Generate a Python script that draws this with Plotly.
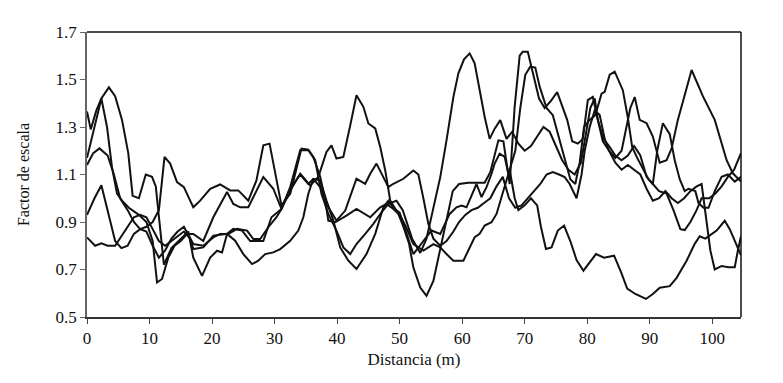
import plotly.graph_objects as go

# Distancia (m) / Factor de escala for five series
x_a = [0, 0.6, 1.5, 2.3, 3.5, 4.5, 5.6, 6.6, 7.3, 8.3, 9.4, 10.4, 11.0, 12.3, 13.5, 15.0, 16.2, 17.0, 18.4, 19.7,
       20.8, 21.6, 22.4, 23.4, 24.8, 26.1, 28.2, 29.5, 31.1, 32.5, 34.1, 35.4, 36.5, 37.5, 38.6, 39.9, 41.0, 42.1,
       43.1, 44.5, 45.8, 47.1, 48.2, 49.5, 50.5, 52.0, 53.3, 54.3, 55.4, 56.5, 57.5, 58.6, 59.4, 60.3, 61.2, 62.0,
       62.8, 63.6, 64.4, 65.2, 66.1, 67.1, 68.0, 69.0, 70.0, 71.0, 72.0, 73.0, 74.0, 75.0, 76.0, 77.0, 78.0, 79.0,
       79.8, 80.5, 81.2, 81.7, 82.5, 83.5, 84.5, 85.5, 86.9, 87.6, 88.4, 89.5, 90.5, 91.6, 92.7, 93.5, 94.5, 95.6,
       96.7, 98.5, 100.4, 102.3, 103.3, 104.6]
y_a = [1.365, 1.29, 1.37, 1.42, 1.467, 1.43, 1.33, 1.19, 1.01, 1.0, 1.10, 1.09, 1.05, 0.72, 0.79, 0.83, 0.86, 0.75,
       0.673, 0.75, 0.779, 0.772, 0.85, 0.871, 0.864, 0.82, 0.82, 0.92, 0.955, 1.047, 1.202, 1.202, 1.16, 1.019,
       0.934, 0.864, 0.793, 0.765, 0.807, 0.85, 0.892, 0.941, 0.976, 0.99, 0.95, 0.83, 0.77, 0.83, 0.962, 1.089,
       1.244, 1.427, 1.526, 1.585, 1.61, 1.568, 1.456, 1.343, 1.25, 1.293, 1.329, 1.25, 1.28, 1.23, 1.20, 1.22,
       1.26, 1.30, 1.28, 1.22, 1.16, 1.12, 1.10, 1.15, 1.28, 1.38, 1.42, 1.33, 1.24, 1.20, 1.17, 1.20, 1.38, 1.426,
       1.33, 1.316, 1.26, 1.15, 1.16, 1.21, 1.33, 1.44, 1.54, 1.43, 1.33, 1.16, 1.105, 1.07]

x_b = [0, 1.2, 2.3, 3.2, 4.0, 4.8, 5.6, 6.7, 8.3, 9.5, 10.5, 11.2, 12.0, 13.0, 14.0, 15.0, 16.0, 17.0, 18.6, 20.2,
       22.4, 23.4, 24.5, 25.8, 26.9, 28.2, 29.8, 31.1, 32.5, 34.1, 35.7, 37.0, 38.3, 39.1, 39.9, 41.0, 42.1, 43.1,
       44.2, 45.0, 46.1, 46.9, 47.7, 48.5, 49.8, 50.6, 51.5, 52.2, 53.3, 54.3, 55.4, 56.5, 57.5, 58.5, 59.5, 61.0,
       63.6, 64.5, 65.8, 66.6, 67.6, 68.4, 69.2, 69.7, 70.5, 71.4, 72.3, 73.2, 74.2, 75.2, 76.1, 76.8, 77.6, 78.5,
       79.3, 80.1, 80.9, 81.7, 82.6, 83.5, 84.5, 85.5, 86.5, 87.5, 88.5, 89.5, 90.5, 91.2, 92.1, 93.2, 94.0, 94.8,
       95.6, 96.2, 97.3, 97.8, 98.6, 99.4, 100.4, 101.5, 102.5, 103.6, 104.6]
y_b = [1.17, 1.30, 1.42, 1.30, 1.13, 1.02, 0.99, 0.96, 0.93, 0.90, 0.82, 0.645, 0.66, 0.75, 0.80, 0.82, 0.85, 0.85,
       0.82, 0.92, 1.026, 0.976, 0.962, 0.962, 1.019, 1.089, 1.04, 0.955, 1.033, 1.103, 1.054, 1.09, 1.195, 1.223,
       1.167, 1.174, 1.307, 1.434, 1.385, 1.315, 1.294, 1.216, 1.117, 0.99, 0.934, 0.88, 0.81, 0.708, 0.624, 0.589,
       0.652, 0.79, 0.92, 1.03, 1.06, 1.065, 1.065, 1.11, 1.244, 1.24, 1.06, 1.385, 1.60, 1.617, 1.617, 1.52, 1.42,
       1.38, 1.41, 1.447, 1.38, 1.33, 1.24, 1.23, 1.25, 1.413, 1.427, 1.33, 1.25, 1.22, 1.18, 1.16, 1.18, 1.22, 1.18,
       1.09, 1.06, 1.20, 1.316, 1.27, 1.16, 1.08, 1.03, 1.04, 1.03, 0.98, 0.96, 0.96, 1.03, 1.09, 1.10, 1.07, 1.09]

x_c = [0, 1.0, 2.0, 3.3, 4.3, 5.3, 6.5, 7.5, 8.5, 9.5, 10.5, 11.5, 12.4, 13.3, 14.4, 15.5, 16.5, 17.0, 18.1, 19.7,
       21.3, 22.9, 24.2, 25.8, 27.1, 28.2, 29.2, 30.1, 31.1, 32.5, 33.5, 34.3, 35.4, 36.2, 37.3, 38.1, 38.6, 39.7,
       41.5, 43.1, 45.3, 46.9, 47.9, 49.0, 50.1, 51.0, 52.2, 53.8, 55.4, 56.5, 57.5, 58.6, 60.2, 61.2, 62.0, 62.8,
       63.6, 64.7, 65.5, 66.3, 67.1, 67.6, 68.4, 69.0, 70.0, 71.0, 72.0, 72.6, 73.4, 74.3, 75.3, 76.3, 77.3, 78.3,
       79.4, 80.4, 81.4, 82.7, 84.3, 85.4, 86.4, 87.7, 89.4, 90.5, 91.6, 93.2, 94.3, 95.9, 97.2, 98.0, 98.9, 100.7,
       102.0, 102.8, 103.8, 104.6]
y_c = [1.14, 1.19, 1.21, 1.18, 1.10, 1.0, 0.95, 0.90, 0.87, 0.88, 0.90, 0.95, 1.174, 1.146, 1.068, 1.047, 0.99,
       0.962, 0.99, 1.04, 1.058, 1.033, 1.033, 0.99, 1.075, 1.223, 1.23, 1.103, 0.97, 1.019, 1.132, 1.209, 1.205,
       1.174, 1.09, 0.99, 0.906, 0.899, 0.927, 0.955, 0.92, 0.962, 0.976, 0.955, 0.927, 0.88, 0.807, 0.78, 0.807,
       0.793, 0.765, 0.737, 0.737, 0.793, 0.836, 0.85, 0.885, 0.899, 0.934, 1.005, 1.075, 1.12, 1.0, 0.95, 0.97,
       1.0, 0.97, 0.88, 0.786, 0.793, 0.864, 0.885, 0.82, 0.74, 0.695, 0.73, 0.765, 0.75, 0.758, 0.69, 0.62, 0.597,
       0.576, 0.597, 0.623, 0.63, 0.665, 0.737, 0.808, 0.84, 0.83, 0.864, 0.905, 0.87, 0.81, 0.76]

x_d = [0, 1.2, 2.3, 3.5, 4.5, 5.5, 6.5, 7.5, 8.5, 9.5, 10.5, 11.5, 12.5, 13.5, 14.5, 15.5, 16.5, 17.0, 18.6, 20.2,
       21.3, 22.6, 24.0, 25.6, 26.6, 27.7, 29.0, 30.3, 31.1, 32.5, 34.1, 35.4, 36.2, 37.3, 38.3, 39.4, 40.5, 41.8,
       43.1, 44.7, 46.1, 47.4, 48.2, 49.0, 50.0, 51.0, 52.2, 53.8, 55.1, 56.5, 57.3, 58.0, 59.1, 59.9, 60.7, 61.5,
       62.3, 63.1, 63.9, 64.7, 65.2, 66.0, 66.8, 67.4, 68.5, 69.3, 70.1, 70.9, 71.7, 72.4, 73.5, 74.5, 75.5, 76.5,
       77.3, 78.1, 78.8, 79.5, 80.4, 81.3, 82.3, 82.8, 83.6, 84.4, 85.7, 86.5, 87.2, 88.0, 89.0, 89.8, 90.5, 91.5,
       92.7, 93.8, 94.9, 95.6, 96.5, 97.5, 98.3, 99.5, 100.5, 101.5, 102.5, 103.5, 104.6]
y_d = [0.93, 1.0, 1.055, 0.93, 0.82, 0.79, 0.80, 0.85, 0.87, 0.86, 0.80, 0.75, 0.78, 0.83, 0.86, 0.88, 0.83, 0.807,
       0.80, 0.835, 0.85, 0.85, 0.871, 0.864, 0.828, 0.828, 0.878, 0.92, 0.955, 1.04, 1.10, 1.06, 1.082, 1.075, 0.99,
       0.906, 0.793, 0.737, 0.702, 0.765, 0.85, 0.962, 0.99, 0.96, 0.94, 0.86, 0.765, 0.82, 0.864, 0.85, 0.892,
       0.934, 0.962, 0.969, 0.962, 1.012, 1.06, 1.005, 1.047, 1.103, 1.146, 1.188, 1.174, 1.103, 1.20, 1.38, 1.52,
       1.554, 1.55, 1.47, 1.38, 1.35, 1.25, 1.15, 1.08, 1.06, 1.15, 1.30, 1.33, 1.35, 1.44, 1.448, 1.52, 1.533,
       1.455, 1.34, 1.215, 1.17, 1.12, 1.08, 1.06, 1.03, 1.02, 0.95, 0.87, 0.866, 0.90, 0.95, 1.0, 1.0, 1.02, 1.05,
       1.09, 1.12, 1.19]

x_e = [0, 1.3, 2.3, 3.3, 4.5, 5.5, 6.5, 7.5, 8.5, 9.5, 10.5, 11.5, 12.5, 13.5, 14.5, 15.5, 16.5, 17.0, 18.6, 20.2,
       22.4, 23.7, 25.0, 26.4, 27.4, 28.5, 29.8, 30.9, 32.5, 33.8, 34.6, 35.4, 36.2, 37.3, 38.6, 39.9, 41.3, 42.3,
       43.1, 44.5, 45.3, 46.3, 47.4, 48.2, 49.0, 50.6, 52.2, 53.0, 53.8, 54.6, 55.4, 56.5, 57.5, 58.6, 59.5, 60.5,
       61.5, 62.5, 63.5, 64.5, 65.5, 66.5, 67.5, 68.5, 69.5, 70.5, 71.5, 72.5, 73.5, 74.5, 75.5, 76.4, 77.2, 78.3,
       79.1, 79.6, 80.4, 81.2, 82.0, 82.8, 83.5, 84.5, 85.5, 86.5, 87.5, 88.5, 89.5, 90.5, 91.5, 92.5, 93.5, 94.5,
       95.5, 96.5, 97.5, 98.3, 99.0, 99.7, 100.4, 101.5, 102.6, 103.6, 104.1, 104.6]
y_e = [0.835, 0.80, 0.81, 0.80, 0.80, 0.84, 0.88, 0.92, 0.93, 0.92, 0.87, 0.82, 0.80, 0.82, 0.84, 0.86, 0.83, 0.786,
       0.793, 0.842, 0.85, 0.821, 0.765, 0.723, 0.737, 0.765, 0.772, 0.786, 0.821, 0.864, 0.92, 1.019, 1.082, 1.047,
       0.962, 0.906, 0.948, 1.019, 1.082, 1.061, 1.103, 1.146, 1.089, 1.047, 1.061, 1.082, 1.117, 1.10, 1.0, 0.892,
       0.83, 0.80, 0.82, 0.86, 0.90, 0.93, 0.95, 0.96, 0.98, 1.0, 1.05, 1.09, 1.0, 0.96, 0.97, 1.0, 1.03, 1.06, 1.1,
       1.11, 1.10, 1.089, 1.06, 1.0, 1.1, 1.2, 1.30, 1.37, 1.35, 1.25, 1.2, 1.15, 1.12, 1.14, 1.12, 1.10, 1.04, 0.99,
       1.0, 1.03, 1.0, 0.98, 1.0, 1.03, 1.05, 1.06, 0.92, 0.78, 0.70, 0.715, 0.71, 0.71, 0.78, 0.84]

series = [(x_a, y_a), (x_b, y_b), (x_c, y_c), (x_d, y_d), (x_e, y_e)]

x_ticks = [0, 10, 20, 30, 40, 50, 60, 70, 80, 90, 100]
y_ticks = [0.5, 0.7, 0.9, 1.1, 1.3, 1.5, 1.7]
y_tick_text = ["0.5", "0.7", "0.9", "1.1", "1.3", "1.5", "1.7"]

fig = go.Figure()
for xs, ys in series:
    fig.add_trace(go.Scatter(x=xs, y=ys, mode="lines", line=dict(color="#111111", width=2),
                             showlegend=False, hoverinfo="skip"))

font_family = "Liberation Serif, DejaVu Serif, serif"
# the page body adds an 8px offset, so margins are shifted accordingly
fig.update_layout(
    width=783, height=383,
    margin=dict(l=79, r=50, t=24, b=74),
    paper_bgcolor="white", plot_bgcolor="white",
    font=dict(family=font_family, size=17, color="#111111"),
)
fig.update_xaxes(
    range=[0, 104.6], tickmode="array", tickvals=x_ticks,
    ticks="outside", ticklen=5, tickcolor="#444444", tickwidth=1,
    showline=True, linecolor="#333333", linewidth=1.5, mirror=False,
    showgrid=False, zeroline=False,
    title=dict(text="Distancia (m)", font=dict(size=17, family=font_family), standoff=6),
    tickfont=dict(size=17, family=font_family),
)
fig.update_yaxes(
    range=[0.5, 1.7], tickmode="array", tickvals=y_ticks, ticktext=y_tick_text,
    ticks="outside", ticklen=5, tickcolor="#666666", tickwidth=1,
    showline=True, linecolor="#666666", linewidth=1.5, mirror=False,
    showgrid=False, zeroline=False,
    title=dict(text="Factor de escala", font=dict(size=16, family=font_family), standoff=22),
    tickfont=dict(size=17, family=font_family),
)
fig.add_shape(type="line", xref="paper", yref="paper", x0=0, x1=1, y0=1, y1=1,
              line=dict(color="#111111", width=1.5))
fig.add_shape(type="line", xref="paper", yref="paper", x0=1, x1=1, y0=0, y1=1,
              line=dict(color="#111111", width=1.5))

fig.write_html("out.html")
